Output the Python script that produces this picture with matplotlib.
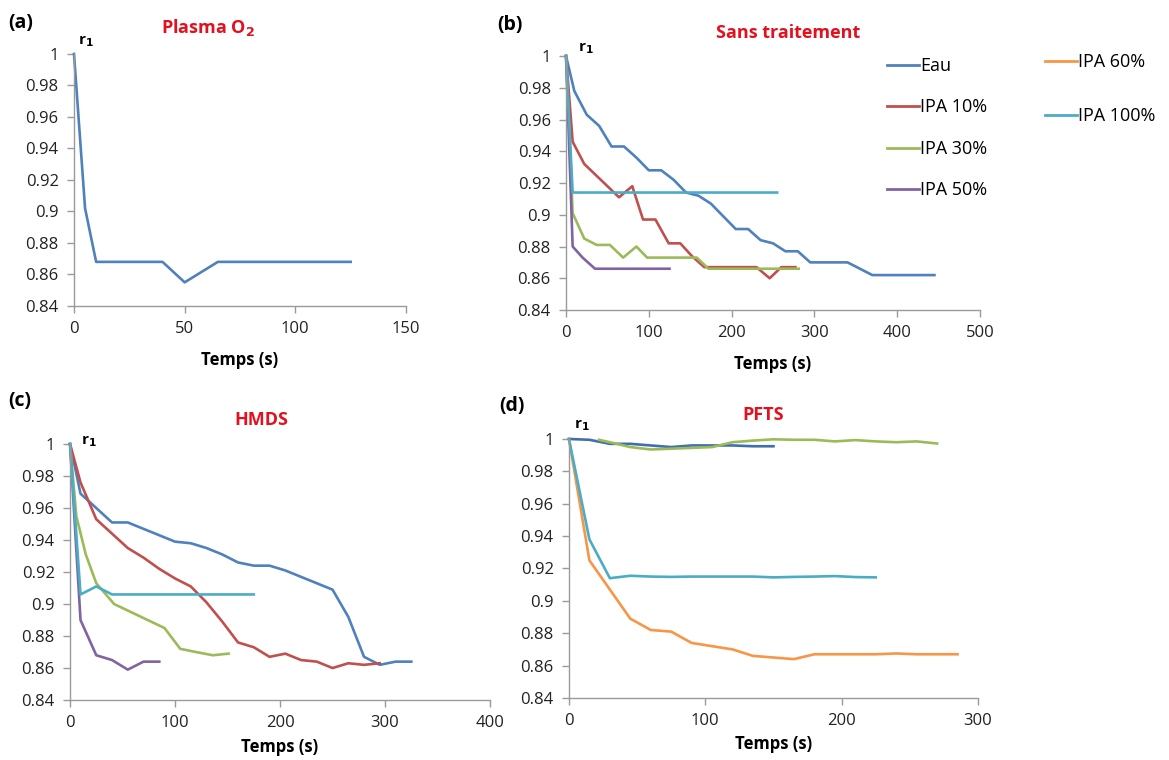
import matplotlib.pyplot as plt
from matplotlib.lines import Line2D
from matplotlib.ticker import FormatStrFormatter

plt.rcParams['font.family'] = ['Open Sans', 'DejaVu Sans']

# couleurs Excel
c_eau = '#4F81BD'
c_10 = '#C0504D'
c_30 = '#9BBB59'
c_50 = '#8064A2'
c_60 = '#F79646'
c_100 = '#4BACC6'

# (a) Plasma O2
a_t = [0, 5, 10, 20, 30, 40, 50, 65, 80, 95, 110, 125]
a_r = [1, 0.902, 0.868, 0.868, 0.868, 0.868, 0.855, 0.868, 0.868, 0.868, 0.868, 0.868]

# (b) Sans traitement
b_eau_t = [0, 10, 25, 40, 55, 70, 85, 100, 115, 130, 145, 160, 175, 190, 205, 220, 235, 250,
           265, 280, 295, 310, 325, 340, 355, 370, 385, 400, 415, 430, 445]
b_eau_r = [1, 0.978, 0.963, 0.956, 0.943, 0.943, 0.936, 0.928, 0.928, 0.922, 0.914, 0.912, 0.907,
           0.899, 0.891, 0.891, 0.884, 0.882, 0.877, 0.877, 0.870, 0.870, 0.870, 0.870, 0.866,
           0.862, 0.862, 0.862, 0.862, 0.862, 0.862]
b_10_t = [0, 8, 22, 36, 50, 64, 80, 93, 108, 124, 138, 152, 167, 182, 197, 212, 230, 246, 260, 277]
b_10_r = [1, 0.946, 0.932, 0.925, 0.918, 0.911, 0.918, 0.897, 0.897, 0.882, 0.882, 0.874, 0.867,
          0.867, 0.867, 0.867, 0.867, 0.860, 0.867, 0.867]
b_30_t = [0, 8, 22, 37, 53, 69, 85, 98, 115, 130, 145, 158, 172, 190, 210, 230, 250, 265, 281]
b_30_r = [1, 0.901, 0.885, 0.881, 0.881, 0.873, 0.880, 0.873, 0.873, 0.873, 0.873, 0.873, 0.866,
          0.866, 0.866, 0.866, 0.866, 0.866, 0.866]
b_50_t = [0, 8, 20, 35, 50, 65, 80, 95, 110, 125]
b_50_r = [1, 0.880, 0.873, 0.866, 0.866, 0.866, 0.866, 0.866, 0.866, 0.866]
b_100_t = [0, 8, 255]
b_100_r = [1, 0.914, 0.914]

# (c) HMDS
c_eau_t = [0, 10, 25, 40, 55, 70, 85, 100, 115, 130, 145, 160, 175, 190, 205, 220, 235, 250,
           265, 280, 295, 310, 325]
c_eau_r = [1, 0.969, 0.960, 0.951, 0.951, 0.947, 0.943, 0.939, 0.938, 0.935, 0.931, 0.926, 0.924,
           0.924, 0.921, 0.917, 0.913, 0.909, 0.892, 0.867, 0.862, 0.864, 0.864]
c_10_t = [0, 10, 25, 40, 55, 70, 85, 100, 115, 130, 145, 160, 175, 190, 205, 220, 235, 250, 265,
          280, 295]
c_10_r = [1, 0.976, 0.953, 0.944, 0.935, 0.929, 0.922, 0.916, 0.911, 0.901, 0.889, 0.876, 0.873,
          0.867, 0.869, 0.865, 0.864, 0.860, 0.863, 0.862, 0.863]
c_30_t = [0, 6, 15, 25, 42, 58, 74, 90, 105, 120, 136, 151]
c_30_r = [1, 0.955, 0.931, 0.913, 0.900, 0.895, 0.890, 0.885, 0.872, 0.870, 0.868, 0.869]
c_50_t = [0, 10, 25, 40, 55, 70, 85]
c_50_r = [1, 0.890, 0.868, 0.865, 0.859, 0.864, 0.864]
c_100_t = [0, 10, 25, 40, 60, 80, 100, 120, 140, 160, 175]
c_100_r = [1, 0.906, 0.911, 0.906, 0.906, 0.906, 0.906, 0.906, 0.906, 0.906, 0.906]

# (d) PFTS
d_eau_t = [0, 15, 30, 45, 60, 75, 90, 105, 120, 135, 150]
d_eau_r = [1, 0.9995, 0.997, 0.997, 0.996, 0.995, 0.996, 0.996, 0.996, 0.9955, 0.9955]
d_30_t = [22, 30, 45, 60, 75, 90, 105, 120, 135, 150, 165, 180, 195, 210, 225, 240, 255, 270]
d_30_r = [0.9995, 0.998, 0.995, 0.9935, 0.994, 0.9945, 0.995, 0.998, 0.999, 0.9998, 0.9995,
          0.9995, 0.9985, 0.9993, 0.9985, 0.998, 0.9985, 0.9972]
d_60_t = [0, 15, 30, 45, 60, 75, 90, 105, 120, 135, 150, 165, 180, 195, 210, 225, 240, 255, 270, 285]
d_60_r = [1, 0.925, 0.907, 0.889, 0.882, 0.881, 0.874, 0.872, 0.870, 0.866, 0.865, 0.864, 0.867,
          0.867, 0.867, 0.867, 0.8675, 0.867, 0.867, 0.867]
d_100_t = [0, 15, 30, 45, 60, 75, 90, 105, 120, 135, 150, 165, 180, 195, 210, 225]
d_100_r = [1, 0.938, 0.914, 0.9155, 0.915, 0.9148, 0.915, 0.915, 0.915, 0.915, 0.9145, 0.9148,
           0.915, 0.9153, 0.9147, 0.9145]

fig = plt.figure(figsize=(11.69, 7.6), dpi=100)


def style(ax, xmax, xstep, lpad=10):
    ax.set_xlim(0, xmax)
    ax.set_ylim(0.84, 1.0)
    ax.set_xticks(range(0, xmax + 1, xstep))
    ax.set_yticks([0.84, 0.86, 0.88, 0.9, 0.92, 0.94, 0.96, 0.98, 1.0])
    ax.yaxis.set_major_formatter(FormatStrFormatter('%g'))
    for s in ['top', 'right']:
        ax.spines[s].set_visible(False)
    for s in ['left', 'bottom']:
        ax.spines[s].set_color('#9a9a9a')
        ax.spines[s].set_linewidth(1.0)
    ax.tick_params(direction='out', length=5, width=1.0, color='#9a9a9a',
                   labelsize=12, labelcolor='#222222', pad=6)
    ax.set_xlabel('Temps (s)', fontsize=12, fontweight='bold', labelpad=lpad)


def line(ax, t, r, col):
    ax.plot(t, r, color=col, lw=1.9, clip_on=False, solid_joinstyle='round')


axa = fig.add_axes([0.0633, 0.5974, 0.2840, 0.3316])
line(axa, a_t, a_r, c_eau)
style(axa, 150, 50)

axb = fig.add_axes([0.4842, 0.5921, 0.3541, 0.3342])
line(axb, b_eau_t, b_eau_r, c_eau)
line(axb, b_10_t, b_10_r, c_10)
line(axb, b_30_t, b_30_r, c_30)
line(axb, b_50_t, b_50_r, c_50)
line(axb, b_100_t, b_100_r, c_100)
style(axb, 500, 100)

axc = fig.add_axes([0.0599, 0.0789, 0.3593, 0.3368])
line(axc, c_eau_t, c_eau_r, c_eau)
line(axc, c_10_t, c_10_r, c_10)
line(axc, c_30_t, c_30_r, c_30)
line(axc, c_50_t, c_50_r, c_50)
line(axc, c_100_t, c_100_r, c_100)
style(axc, 400, 100, lpad=5)

axd = fig.add_axes([0.4867, 0.0816, 0.3499, 0.3408])
line(axd, d_eau_t, d_eau_r, '#3F6FAF')
line(axd, d_30_t, d_30_r, c_30)
line(axd, d_60_t, d_60_r, c_60)
line(axd, d_100_t, d_100_r, c_100)
style(axd, 300, 100, lpad=4)

# lettres, titres, r1
panels = [('(a)', 21, 23, 'Plasma O$_\\mathbf{2}$', 208, 28, 86, 42),
          ('(b)', 510, 25, 'Sans traitement', 788, 33, 586, 49),
          ('(c)', 20, 401, 'HMDS', 261, 420, 89, 442),
          ('(d)', 512, 406, 'PFTS', 763, 415, 582, 426)]
for lab, lx, ly, tit, tx, ty, rx, ry in panels:
    fig.text(lx / 1169, 1 - ly / 760, lab, fontsize=14, fontweight='bold',
             ha='center', va='center')
    fig.text(tx / 1169, 1 - ty / 760, tit, fontsize=13, fontweight='bold',
             color='#E3101E', ha='center', va='center')
    fig.text(rx / 1169, 1 - ry / 760, 'r$_\\mathbf{1}$', fontsize=11, fontweight='bold',
             ha='center', va='center')

# légende
h1 = [Line2D([0], [0], color=c, lw=2) for c in [c_eau, c_10, c_30, c_50]]
h2 = [Line2D([0], [0], color=c, lw=2) for c in [c_60, c_100]]
fig.legend(h1, ['Eau', 'IPA 10%', 'IPA 30%', 'IPA 50%'], loc='upper left',
           bbox_to_anchor=(0.7588, 0.925), frameon=False, fontsize=13,
           handlelength=1.75, handletextpad=0.1, labelspacing=1.3,
           borderpad=0, borderaxespad=0)
fig.legend(h2, ['IPA 60%', 'IPA 100%'], loc='upper left',
           bbox_to_anchor=(0.894, 0.930), frameon=False, fontsize=13,
           handlelength=1.75, handletextpad=0.1, labelspacing=2.0,
           borderpad=0, borderaxespad=0)

plt.savefig('out.png', dpi=100)
